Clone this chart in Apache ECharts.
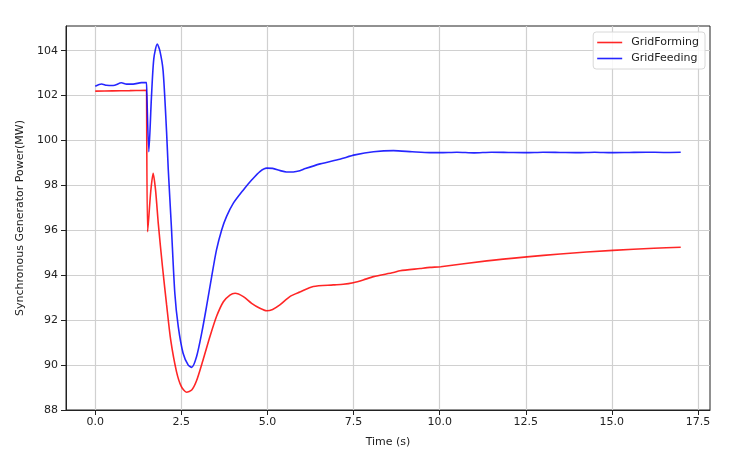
<!DOCTYPE html>
<html><head><meta charset="utf-8">
<script src="https://cdn.jsdelivr.net/npm/echarts@6/dist/echarts.min.js"></script>
<style>html,body{margin:0;padding:0;background:#fff}#c{width:739px;height:453px}</style>
</head><body><div id="c"></div>
<script>
const xTicks = [0, 2.5, 5, 7.5, 10, 12.5, 15, 17.5];
const yTicks = [88, 90, 92, 94, 96, 98, 100, 102, 104];
const seriesNames = ['GridForming', 'GridFeeding'];

const formingT = [0, 0.5, 1.0, 1.49, 1.5, 1.52, 1.61, 1.68, 1.75, 1.83, 1.95, 2.07, 2.19, 2.36, 2.5, 2.65, 2.8, 2.94, 3.13, 3.33, 3.52, 3.72, 3.91, 4.06, 4.3, 4.54, 4.78, 4.98, 5.15, 5.36, 5.65, 5.94, 6.33, 6.91, 7.2, 7.49, 7.78, 8.08, 8.66, 8.85, 9.43, 9.72, 10.03, 11.37, 12.53, 13.5, 15.03, 16.22, 17.0];
const formingP = [102.2, 102.21, 102.22, 102.24, 102.24, 95.94, 97.72, 98.54, 97.8, 96.3, 94.4, 92.7, 91.12, 89.7, 89.04, 88.79, 88.89, 89.3, 90.23, 91.27, 92.16, 92.82, 93.12, 93.2, 93.05, 92.75, 92.53, 92.42, 92.48, 92.68, 93.05, 93.25, 93.5, 93.57, 93.6, 93.67, 93.79, 93.94, 94.12, 94.2, 94.3, 94.35, 94.38, 94.64, 94.82, 94.95, 95.11, 95.2, 95.25];

const feedingT = [0, 0.18, 0.33, 0.52, 0.76, 0.91, 1.1, 1.34, 1.49, 1.5, 1.555, 1.63, 1.7, 1.8, 1.875, 1.97, 2.07, 2.12, 2.21, 2.31, 2.41, 2.55, 2.7, 2.8, 2.94, 3.09, 3.23, 3.38, 3.52, 3.67, 3.81, 4.01, 4.3, 4.54, 4.78, 4.98, 5.15, 5.37, 5.55, 5.75, 5.94, 6.1, 6.53, 7.1, 7.54, 8.08, 8.66, 9.2, 9.72, 10.0, 10.5, 11.0, 11.5, 12.0, 12.5, 13.0, 13.5, 14.0, 14.5, 15.0, 15.5, 16.0, 16.5, 17.0];
const feedingP = [102.42, 102.52, 102.46, 102.45, 102.57, 102.51, 102.51, 102.58, 102.58, 102.58, 99.5, 101.9, 103.65, 104.3, 104.0, 103.1, 100.4, 98.7, 96.16, 93.2, 91.71, 90.53, 90.0, 89.9, 90.37, 91.42, 92.6, 93.94, 95.13, 96.02, 96.61, 97.21, 97.8, 98.24, 98.62, 98.77, 98.76, 98.66, 98.6, 98.6, 98.65, 98.75, 98.96, 99.17, 99.36, 99.5, 99.55, 99.5, 99.46, 99.46, 99.48, 99.45, 99.48, 99.47, 99.46, 99.48, 99.47, 99.46, 99.48, 99.46, 99.47, 99.48, 99.47, 99.48];

const zip = (a, b) => a.map((t, i) => [t, b[i]]);
const font = 'DejaVu Sans';
const txt = '#222';

const chart = echarts.init(document.getElementById('c'), null, {renderer: 'canvas'});
chart.setOption({
  animation: false,
  backgroundColor: '#fff',
  grid: {left: 66, right: 29, top: 26, bottom: 43, show: true, borderColor: '#222', borderWidth: 1, backgroundColor: 'transparent'},
  legend: {
    data: seriesNames, orient: 'vertical', right: 34, top: 32,
    icon: 'rect', itemWidth: 25, itemHeight: 1.6, itemGap: 5,
    padding: [5, 6, 5, 4],
    borderColor: '#d8d8d8', borderWidth: 1, borderRadius: 3, backgroundColor: 'rgba(255,255,255,0.85)',
    textStyle: {fontFamily: font, fontSize: 11, color: txt, padding: [0, 0, 0, 4]}
  },
  xAxis: {
    type: 'value', min: -0.85, max: 17.85,
    name: 'Time (s)', nameLocation: 'middle', nameGap: 27,
    nameTextStyle: {fontFamily: font, fontSize: 11, color: txt},
    axisLine: {show: true, onZero: false, lineStyle: {color: '#222', width: 1}},
    axisTick: {show: true, length: 5, customValues: xTicks, lineStyle: {color: '#222'}},
    axisLabel: {customValues: xTicks, margin: 7, fontFamily: font, fontSize: 11, color: txt, formatter: v => v.toFixed(1)},
    splitLine: {show: true, lineStyle: {color: '#d0d0d0', width: 1.2}}
  },
  yAxis: {
    type: 'value', min: 88, max: 105.1,
    name: 'Synchronous Generator Power(MW)', nameLocation: 'middle', nameGap: 40,
    nameTextStyle: {fontFamily: font, fontSize: 11, color: txt},
    axisLine: {show: true, onZero: false, lineStyle: {color: '#222', width: 1}},
    axisTick: {show: true, length: 5, customValues: yTicks, lineStyle: {color: '#222'}},
    axisLabel: {customValues: yTicks, margin: 8, fontFamily: font, fontSize: 11, color: txt},
    splitLine: {show: true, lineStyle: {color: '#d0d0d0', width: 1.2}}
  },
  series: [
    {name: seriesNames[0], type: 'line', data: zip(formingT, formingP), showSymbol: false, symbol: 'none', smooth: 0.25,
     lineStyle: {color: 'rgba(255,0,0,0.85)', width: 1.6}, itemStyle: {color: 'rgba(255,0,0,0.85)'}},
    {name: seriesNames[1], type: 'line', data: zip(feedingT, feedingP), showSymbol: false, symbol: 'none', smooth: 0.25,
     lineStyle: {color: 'rgba(0,0,255,0.85)', width: 1.6}, itemStyle: {color: 'rgba(0,0,255,0.85)'}}
  ]
});
</script>
</body></html>
